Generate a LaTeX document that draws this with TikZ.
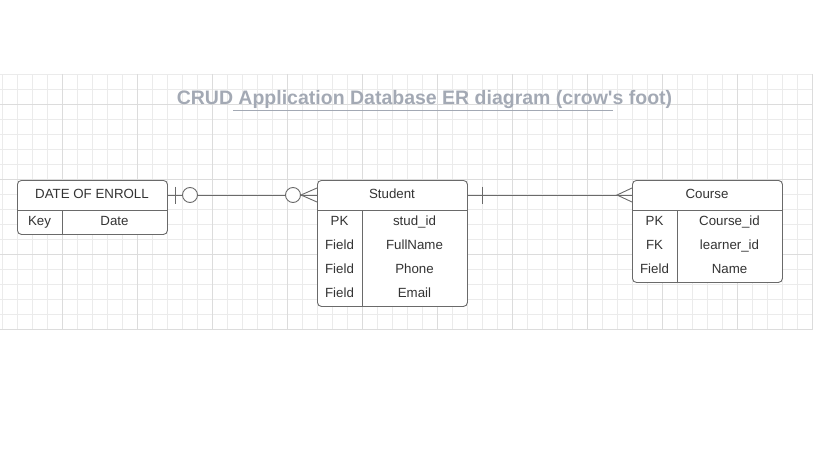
\documentclass[tikz,border=0pt]{standalone}
\usepackage{fontspec}
\setmainfont{Liberation Sans}
\usetikzlibrary{positioning,calc}
\definecolor{gridminor}{HTML}{EBEBEB}
\definecolor{gridmajor}{HTML}{DCDCDC}
\definecolor{erline}{HTML}{6A6A6A}
\definecolor{ertext}{HTML}{333333}
\definecolor{titlegray}{HTML}{A3A9B4}
\tikzset{
  entity/.style={draw=erline, line width=0.9pt, rounded corners=4pt, fill=white,
    minimum width=150pt, inner sep=0pt, anchor=north west},
  headcell/.style={minimum width=150pt, minimum height=30pt, inner sep=0pt, outer sep=0pt,
    anchor=north west, text=ertext, text height=9.5pt, text depth=2.8pt,
    font=\fontsize{13.3}{16}\selectfont},
  keycell/.style={minimum width=45pt, minimum height=24pt, inner sep=0pt, outer sep=0pt,
    text=ertext, text height=9.5pt, text depth=2.8pt,
    font=\fontsize{13.3}{16}\selectfont},
  fieldcell/.style={keycell, minimum width=105pt},
  rel/.style={draw=erline, line width=0.9pt},
}

\begin{document}
\begin{tikzpicture}[x=1pt,y=-1pt]
\useasboundingbox (0,0) rectangle (827,460);
% grid paper
\foreach \gx in {2,17,...,812} \draw[gridminor, line width=0.8pt] (\gx,74) -- (\gx,329);
\foreach \gy in {74,89,...,329} \draw[gridminor, line width=0.8pt] (0,\gy) -- (813,\gy);
\foreach \gx in {62,137,...,812} \draw[gridmajor, line width=0.9pt] (\gx,74) -- (\gx,329);
\foreach \gy in {104,179,254,329} \draw[gridmajor, line width=0.9pt] (0,\gy) -- (813,\gy);

% title
\node[text=titlegray, text height=14pt, text depth=4pt, font=\fontsize{19.5}{22}\selectfont\bfseries] (title) at (424.5,99) {CRUD Application Database ER diagram (crow\textquotesingle s foot)};
\draw[titlegray, line width=1.5pt] (233,110.5) -- (613,110.5);

% DATE OF ENROLL
\node[entity, minimum height=54pt] (enroll) at (17,180) {};
\node[headcell] (enrollhead) at (17,180) {DATE OF ENROLL};
\draw[rel] (enrollhead.south west) -- (enrollhead.south east);
\draw[rel] ([xshift=45pt]enrollhead.south west) -- ([xshift=45pt]enroll.south west);
\node[keycell, anchor=north west] (ek1) at (enrollhead.south west) {Key};
\node[fieldcell, right=0pt of ek1] (ef1) {Date};

% Student
\node[entity, minimum height=126pt] (student) at (317,180) {};
\node[headcell] (studenthead) at (317,180) {Student};
\draw[rel] (studenthead.south west) -- (studenthead.south east);
\draw[rel] ([xshift=45pt]studenthead.south west) -- ([xshift=45pt]student.south west);
\node[keycell, anchor=north west] (sk1) at (studenthead.south west) {PK};
\node[keycell, below=0pt of sk1] (sk2) {Field};
\node[keycell, below=0pt of sk2] (sk3) {Field};
\node[keycell, below=0pt of sk3] (sk4) {Field};
\node[fieldcell, right=0pt of sk1] (sf1) {stud\_id};
\node[fieldcell, right=0pt of sk2] (sf2) {FullName};
\node[fieldcell, right=0pt of sk3] (sf3) {Phone};
\node[fieldcell, right=0pt of sk4] (sf4) {Email};

% Course
\node[entity, minimum height=102pt] (course) at (632,180) {};
\node[headcell] (coursehead) at (632,180) {Course};
\draw[rel] (coursehead.south west) -- (coursehead.south east);
\draw[rel] ([xshift=45pt]coursehead.south west) -- ([xshift=45pt]course.south west);
\node[keycell, anchor=north west] (ck1) at (coursehead.south west) {PK};
\node[keycell, below=0pt of ck1] (ck2) {FK};
\node[keycell, below=0pt of ck2] (ck3) {Field};
\node[fieldcell, right=0pt of ck1] (cf1) {Course\_id};
\node[fieldcell, right=0pt of ck2] (cf2) {learner\_id};
\node[fieldcell, right=0pt of ck3] (cf3) {Name};

% enroll -- student: zero-or-one to zero-or-many
\draw[rel] (enrollhead.east) -- (studenthead.west);
\draw[rel] ([xshift=8pt,yshift=8.5pt]enrollhead.east) -- ([xshift=8pt,yshift=-8.5pt]enrollhead.east);
\draw[rel, fill=white] ([xshift=23pt]enrollhead.east) circle (7.5pt);
\draw[rel, fill=white] ([xshift=-24pt]studenthead.west) circle (7.5pt);
\draw[rel] ([yshift=7pt]studenthead.west) -- ([xshift=-16pt]studenthead.west) -- ([yshift=-7pt]studenthead.west);

% student -- course: one to many
\draw[rel] (studenthead.east) -- (coursehead.west);
\draw[rel] ([xshift=15pt,yshift=8.5pt]studenthead.east) -- ([xshift=15pt,yshift=-8.5pt]studenthead.east);
\draw[rel] ([yshift=7pt]coursehead.west) -- ([xshift=-15pt]coursehead.west) -- ([yshift=-7pt]coursehead.west);
\end{tikzpicture}
\end{document}
